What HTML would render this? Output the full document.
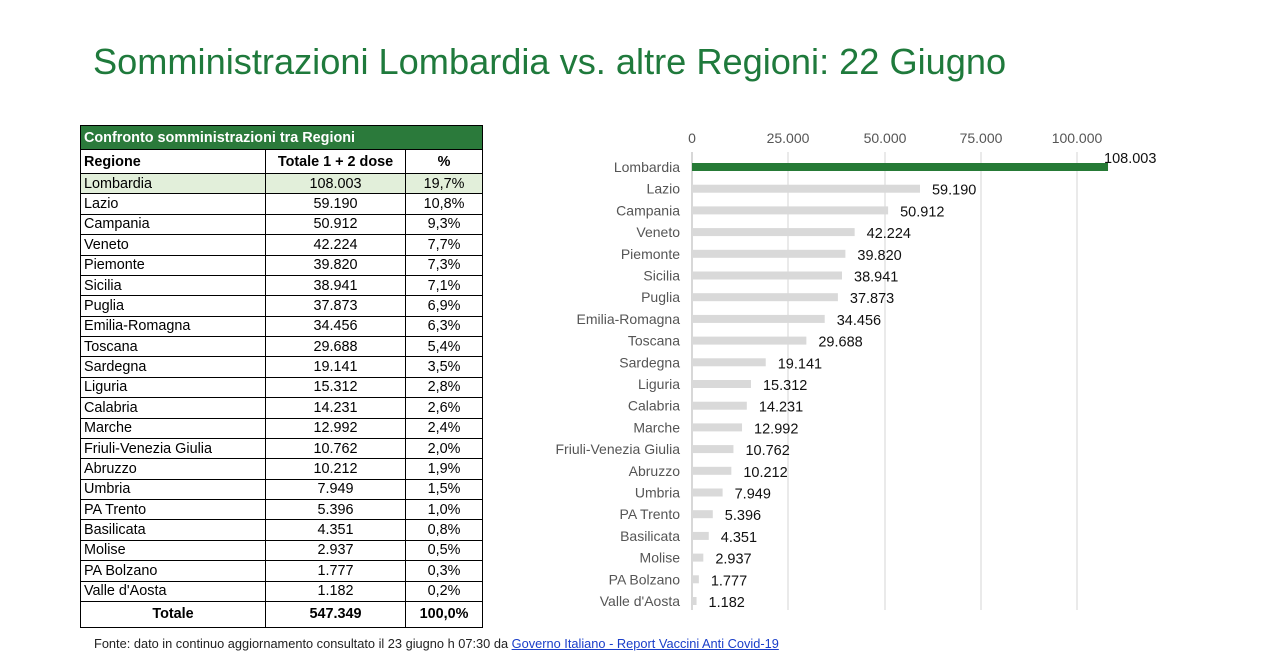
<!DOCTYPE html>
<html><head><meta charset="utf-8"><style>
body{margin:0;width:1280px;height:657px;background:#fff;position:relative;overflow:hidden;font-family:"Liberation Sans",sans-serif}
.t{position:absolute;left:93px;top:41px;font-size:36.2px;color:#1f7a3c;white-space:nowrap}
table{position:absolute;left:80px;top:125px;border-collapse:collapse;font-size:14.4px;color:#000;table-layout:fixed}
td{border:1.5px solid #000;padding:0 3px;line-height:16px}
tr{height:20.38px}
td.c{text-align:center}
tr.h{height:24px}
tr.h td{background:#2b7a3b;color:#fff;font-weight:bold}
.b td{font-weight:bold}
.f{position:absolute;left:94px;top:636px;font-size:12.8px;color:#222;white-space:nowrap}
.f u{color:#1a3ec9}
</style></head><body>
<div class="t">Somministrazioni Lombardia vs. altre Regioni: 22 Giugno</div>
<table>
<colgroup><col style="width:185px"><col style="width:140px"><col style="width:77px"></colgroup>
<tr class="h"><td colspan="3">Confronto somministrazioni tra Regioni</td></tr>
<tr class="b" style="height:24px"><td>Regione</td><td class="c">Totale 1 + 2 dose</td><td class="c">%</td></tr>
<tr style="background:#e2efda"><td>Lombardia</td><td class="c">108.003</td><td class="c">19,7%</td></tr>
<tr><td>Lazio</td><td class="c">59.190</td><td class="c">10,8%</td></tr>
<tr><td>Campania</td><td class="c">50.912</td><td class="c">9,3%</td></tr>
<tr><td>Veneto</td><td class="c">42.224</td><td class="c">7,7%</td></tr>
<tr><td>Piemonte</td><td class="c">39.820</td><td class="c">7,3%</td></tr>
<tr><td>Sicilia</td><td class="c">38.941</td><td class="c">7,1%</td></tr>
<tr><td>Puglia</td><td class="c">37.873</td><td class="c">6,9%</td></tr>
<tr><td>Emilia-Romagna</td><td class="c">34.456</td><td class="c">6,3%</td></tr>
<tr><td>Toscana</td><td class="c">29.688</td><td class="c">5,4%</td></tr>
<tr><td>Sardegna</td><td class="c">19.141</td><td class="c">3,5%</td></tr>
<tr><td>Liguria</td><td class="c">15.312</td><td class="c">2,8%</td></tr>
<tr><td>Calabria</td><td class="c">14.231</td><td class="c">2,6%</td></tr>
<tr><td>Marche</td><td class="c">12.992</td><td class="c">2,4%</td></tr>
<tr><td>Friuli-Venezia Giulia</td><td class="c">10.762</td><td class="c">2,0%</td></tr>
<tr><td>Abruzzo</td><td class="c">10.212</td><td class="c">1,9%</td></tr>
<tr><td>Umbria</td><td class="c">7.949</td><td class="c">1,5%</td></tr>
<tr><td>PA Trento</td><td class="c">5.396</td><td class="c">1,0%</td></tr>
<tr><td>Basilicata</td><td class="c">4.351</td><td class="c">0,8%</td></tr>
<tr><td>Molise</td><td class="c">2.937</td><td class="c">0,5%</td></tr>
<tr><td>PA Bolzano</td><td class="c">1.777</td><td class="c">0,3%</td></tr>
<tr><td>Valle d'Aosta</td><td class="c">1.182</td><td class="c">0,2%</td></tr>
<tr class="b" style="height:26px"><td class="c">Totale</td><td class="c">547.349</td><td class="c">100,0%</td></tr>
</table>
<svg width="1280" height="657" style="position:absolute;left:0;top:0">
<g stroke="#e3e3e3" stroke-width="1.5">
<line x1="692" y1="152" x2="692" y2="610" stroke="#ccc"/><line x1="788" y1="152" x2="788" y2="610"/><line x1="885" y1="152" x2="885" y2="610"/><line x1="981" y1="152" x2="981" y2="610"/><line x1="1077" y1="152" x2="1077" y2="610"/>
</g>
<g font-family="Liberation Sans" font-size="14" fill="#555" text-anchor="middle">
<text x="692" y="143">0</text><text x="788" y="143">25.000</text><text x="885" y="143">50.000</text><text x="981" y="143">75.000</text><text x="1077" y="143">100.000</text>
</g>
<g id="bars"></g>
</svg>
<script>
var d=[["Lombardia",108003,"108.003"],["Lazio",59190,"59.190"],["Campania",50912,"50.912"],["Veneto",42224,"42.224"],["Piemonte",39820,"39.820"],["Sicilia",38941,"38.941"],["Puglia",37873,"37.873"],["Emilia-Romagna",34456,"34.456"],["Toscana",29688,"29.688"],["Sardegna",19141,"19.141"],["Liguria",15312,"15.312"],["Calabria",14231,"14.231"],["Marche",12992,"12.992"],["Friuli-Venezia Giulia",10762,"10.762"],["Abruzzo",10212,"10.212"],["Umbria",7949,"7.949"],["PA Trento",5396,"5.396"],["Basilicata",4351,"4.351"],["Molise",2937,"2.937"],["PA Bolzano",1777,"1.777"],["Valle d'Aosta",1182,"1.182"]];
var s="";
d.forEach(function(r,i){var y=167+i*21.7,w=r[1]*0.003852;
s+='<rect x="692" y="'+(y-4)+'" width="'+w+'" height="8" fill="'+(i?"#d9d9d9":"#267a36")+'"/>';
s+='<text x="680" y="'+(y+5)+'" text-anchor="end" font-family="Liberation Sans" font-size="14" fill="#555">'+r[0]+'</text>';
if(i)s+='<text x="'+(692+w+12)+'" y="'+(y+6)+'" font-family="Liberation Sans" font-size="14.5" fill="#111">'+r[2]+'</text>';
else s+='<text x="1104" y="163" font-family="Liberation Sans" font-size="14.5" fill="#111">'+r[2]+'</text>';});
document.getElementById("bars").innerHTML=s;
</script>
<div class="f">Fonte: dato in continuo aggiornamento consultato il 23 giugno h 07:30 da <u>Governo Italiano - Report Vaccini Anti Covid-19</u></div>
</body></html>
